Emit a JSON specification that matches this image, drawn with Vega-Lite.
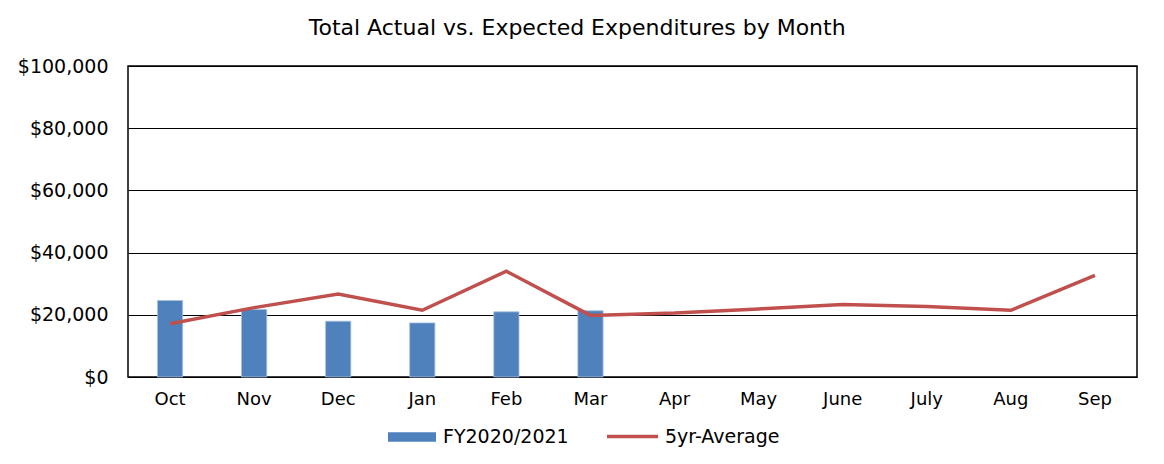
{
  "$schema": "https://vega.github.io/schema/vega-lite/v6.json",
  "width": 1009,
  "height": 311,
  "autosize": {"type": "none"},
  "padding": {"left": 128, "top": 66, "right": 27, "bottom": 87},
  "background": "white",
  "title": {
    "text": "Total Actual vs. Expected Expenditures by Month",
    "font": "DejaVu Sans",
    "fontSize": 22,
    "fontWeight": "normal",
    "color": "#000000",
    "offset": 17,
    "frame": "bounds"
  },
  "data": {
    "values": [
      {"month": "Oct", "actual": 24600, "avg": 17100},
      {"month": "Nov", "actual": 21700, "avg": 22300},
      {"month": "Dec", "actual": 17950, "avg": 26650},
      {"month": "Jan", "actual": 17400, "avg": 21450},
      {"month": "Feb", "actual": 20950, "avg": 34000},
      {"month": "Mar", "actual": 21300, "avg": 19800},
      {"month": "Apr", "actual": null, "avg": 20550},
      {"month": "May", "actual": null, "avg": 21900},
      {"month": "June", "actual": null, "avg": 23300},
      {"month": "July", "actual": null, "avg": 22700},
      {"month": "Aug", "actual": null, "avg": 21450},
      {"month": "Sep", "actual": null, "avg": 32700}
    ]
  },
  "encoding": {
    "x": {
      "field": "month",
      "type": "nominal",
      "sort": null,
      "scale": {"paddingInner": 0.7, "paddingOuter": 0.35},
      "axis": {
        "title": null,
        "labelAngle": 0,
        "ticks": false,
        "domain": false,
        "labelPadding": 13,
        "labelFont": "DejaVu Sans",
        "labelFontSize": 18,
        "labelColor": "#000000"
      }
    }
  },
  "layer": [
    {
      "mark": {"type": "bar", "stroke": "#A9C0DE", "strokeWidth": 0.8},
      "transform": [
        {"filter": "datum.actual != null"},
        {"calculate": "'FY2020/2021'", "as": "series"}
      ],
      "encoding": {
        "y": {
          "field": "actual",
          "type": "quantitative",
          "scale": {"domain": [0, 100000], "nice": false},
          "axis": {
            "title": null,
            "format": "$,.0f",
            "values": [0, 20000, 40000, 60000, 80000, 100000],
            "ticks": false,
            "domain": false,
            "grid": true,
            "gridColor": "#000000",
            "gridWidth": 1,
            "gridOpacity": 1,
            "labelPadding": 20,
            "labelFont": "DejaVu Sans",
            "labelFontSize": 19,
            "labelColor": "#000000"
          }
        },
        "fill": {
          "field": "series",
          "type": "nominal",
          "scale": {"domain": ["FY2020/2021"], "range": ["#4F81BD"]},
          "legend": {
            "title": null,
            "orient": "none",
            "legendX": 260,
            "legendY": 347,
            "labelFont": "DejaVu Sans",
            "labelFontSize": 19,
            "labelColor": "#000000",
            "labelOffset": 7,
            "symbolType": "M-1,-0.2H1V0.2H-1Z",
            "symbolSize": 2304,
            "symbolStrokeWidth": 0,
            "symbolOpacity": 1
          }
        }
      }
    },
    {
      "mark": {"type": "line", "strokeWidth": 3.5, "strokeJoin": "miter"},
      "transform": [{"calculate": "'5yr-Average'", "as": "series"}],
      "encoding": {
        "y": {"field": "avg", "type": "quantitative"},
        "stroke": {
          "field": "series",
          "type": "nominal",
          "scale": {"domain": ["5yr-Average"], "range": ["#C0504D"]},
          "legend": {
            "title": null,
            "orient": "none",
            "legendX": 477,
            "legendY": 343,
            "labelFont": "DejaVu Sans",
            "labelFontSize": 19,
            "labelColor": "#000000",
            "labelOffset": 5,
            "symbolType": "stroke",
            "symbolSize": 2601,
            "symbolStrokeWidth": 3.5,
            "symbolOpacity": 1
          }
        }
      }
    }
  ],
  "config": {
    "view": {"stroke": "#000000", "strokeWidth": 1.5}
  }
}
